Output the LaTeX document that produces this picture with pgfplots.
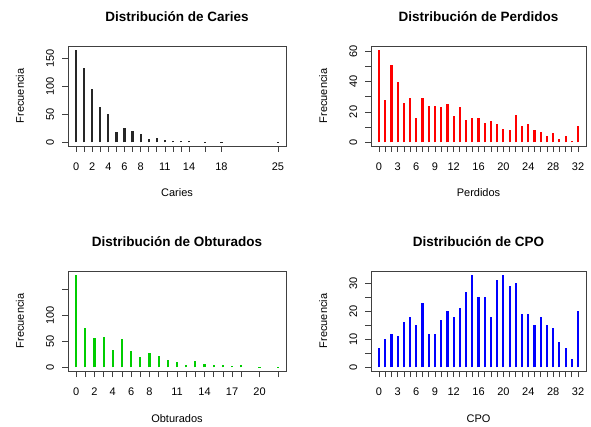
\documentclass[border=0pt]{standalone}
\usepackage{pgfplots}
\pgfplotsset{compat=1.18}
\usepackage{fontspec}
\setmainfont{Liberation Sans}
\definecolor{rgreen}{HTML}{00CD00}
\definecolor{rframe}{HTML}{404040}
\pgfplotsset{
  rbase/.style={
    scale only axis,
    width=217pt, height=100pt,
    axis line style={draw=rframe, line width=0.7pt},
    tick style={draw=rframe, line width=0.7pt},
    tick align=outside,
    major tick length=6pt,
    xtick pos=left, ytick pos=left,
    /pgf/number format/assume math mode=true,
    tick label style={font=\fontsize{11}{13}\selectfont},
    xticklabel style={yshift=-7pt},
    yticklabel style={rotate=90, anchor=base, yshift=8pt},
    title style={at={(axis description cs:0.5,1)}, anchor=base, yshift=18.5pt, font=\bfseries\fontsize{13.5}{15}\selectfont},
    xlabel style={at={(axis description cs:0.5,0)}, anchor=base, yshift=-51pt, font=\fontsize{11}{13}\selectfont},
    ylabel style={at={(axis description cs:0,0.5)}, anchor=base, rotate=0, font=\fontsize{11}{13}\selectfont},
    ylabel={Frecuencia},
  },
  rbar/.style={ycomb, no markers, line width=2.2pt, line cap=butt},
}
\begin{document}
\begin{tikzpicture}
\path (0pt,0pt) rectangle (591pt,426pt);

% Caries
\begin{axis}[rbase, at={(68pt,280pt)}, anchor=south west, width=218pt,
  title={Distribución de Caries}, xlabel={Caries},
  ylabel style={xshift=0pt, yshift=44pt},
  xmin=-1, xmax=26, ymin=-6.64, ymax=172.64,
  xtick={0,1,2,3,4,5,6,7,8,9,10,11,12,13,14,16,18,25},
  xticklabels={0,{},2,{},4,{},6,{},8,{},{},11,{},{},14,{},18,25},
  ytick={0,50,100,150}, yticklabels={0,50,100,150}]
\addplot[rbar, color=black!85] table {
x y
0 166
1 133
2 95
3 63
4 50
5 19
6 25
7 20
8 14
9 6
10 7
11 4
12 3
13 2
14 2
16 1
18 1
25 1
};
\end{axis}

% Perdidos
\begin{axis}[rbase, at={(371pt,280pt)}, anchor=south west, width=215pt,
  title={Distribución de Perdidos}, xlabel={Perdidos},
  ylabel style={yshift=44pt},
  xmin=-1.28, xmax=33.28, ymin=-2.44, ymax=63.44,
  xtick={0,...,32},
  xticklabels={0,{},{},3,{},{},6,{},{},9,{},{},12,{},{},{},16,{},{},{},20,{},{},{},24,{},{},{},28,{},{},{},32},
  ytick={0,10,20,30,40,50,60}, yticklabels={0,{},20,{},40,{},60}]
\addplot[rbar, color=red] table {
x y
0 61
1 28
2 51
3 40
4 26
5 29
6 16
7 29
8 24
9 24
10 23
11 25
12 17
13 23
14 15
15 16
16 16
17 13
18 14
19 12
20 9
21 8
22 18
23 11
24 12
25 8
26 7
27 4
28 6
29 2
30 4
31 1
32 11
};
\end{axis}

% Obturados
\begin{axis}[rbase, at={(68pt,55pt)}, anchor=south west, width=218pt,
  title={Distribución de Obturados}, xlabel={Obturados},
  ylabel style={yshift=44pt},
  xmin=-0.88, xmax=22.88, ymin=-7.16, ymax=186.16,
  xtick={0,1,2,3,4,5,6,7,8,9,10,11,12,13,14,15,16,17,18,20,22},
  xticklabels={0,{},2,{},4,{},6,{},8,{},{},11,{},{},14,{},{},17,{},20,{}},
  ytick={0,50,100,150}, yticklabels={0,50,100,{}}]
\addplot[rbar, color=rgreen] table {
x y
0 179
1 76
2 56
3 58
4 33
5 54
6 31
7 19
8 28
9 21
10 15
11 11
12 5
13 12
14 6
15 4
16 5
17 2
18 5
20 1
22 1
};
\end{axis}

% CPO
\begin{axis}[rbase, at={(371pt,55pt)}, anchor=south west, width=215pt,
  title={Distribución de CPO}, xlabel={CPO},
  ylabel style={yshift=44pt},
  xmin=-1.28, xmax=33.28, ymin=-1.32, ymax=34.32,
  xtick={0,...,32},
  xticklabels={0,{},{},3,{},{},6,{},{},9,{},{},12,{},{},{},16,{},{},{},20,{},{},{},24,{},{},{},28,{},{},{},32},
  ytick={0,5,10,15,20,25,30}, yticklabels={0,{},10,{},20,{},30}]
\addplot[rbar, color=blue] table {
x y
0 7
1 10
2 12
3 11
4 16
5 18
6 15
7 23
8 12
9 12
10 17
11 20
12 18
13 21
14 27
15 33
16 25
17 25
18 18
19 31
20 33
21 29
22 30
23 19
24 19
25 15
26 18
27 15
28 14
29 9
30 7
31 3
32 20
};
\end{axis}
\end{tikzpicture}
\end{document}
